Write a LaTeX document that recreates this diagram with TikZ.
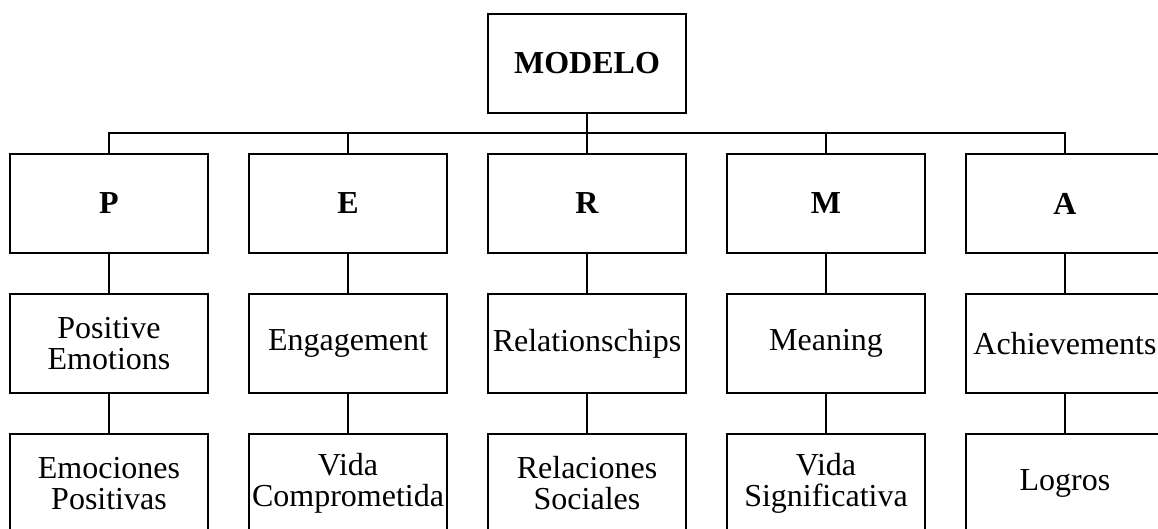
\documentclass[tikz,border=0pt]{standalone}
\usepackage{fontspec}
\setmainfont{Liberation Serif}
\begin{document}
\begin{tikzpicture}[x=1pt,y=-1pt,
  box/.style={draw=black, line width=2.6pt, minimum width=198pt, minimum height=99pt,
    inner sep=0pt, align=center, font=\fontsize{32}{31}\selectfont},
  head/.style={box, font=\fontsize{32}{31}\selectfont\bfseries},
  conn/.style={draw=black, line width=2.6pt}]
\useasboundingbox (0,0) rectangle (1158,529);
\clip (0,0) rectangle (1158,529);
\node[head] (M) at (587,63.5) {MODELO};
\node[head] (P) at (109,203.5) {P};
\node[head] (E) at (348,203.5) {E};
\node[head] (R) at (587,203.5) {R};
\node[head] (Mn) at (826,203.5) {M};
\node[head] (A) at (1065,203.5) {A};
\node[box] (P2) at (109,343.5) {Positive\\Emotions};
\node[box] (E2) at (348,343.5) {Engagement};
\node[box] (R2) at (587,343.5) {Relationschips};
\node[box] (M2) at (826,343.5) {Meaning};
\node[box] (A2) at (1065,343.5) {Achievements};
\node[box] (P3) at (109,483.5) {Emociones\\Positivas};
\node[box] (E3) at (348,483.5) {Vida\\Comprometida};
\node[box] (R3) at (587,483.5) {Relaciones\\Sociales};
\node[box] (M3) at (826,483.5) {Vida\\Significativa};
\node[box] (A3) at (1065,483.5) {Logros};
\coordinate (bus) at (0,133);
\draw[conn] (M.south) -- (M.south|-bus);
\draw[conn] (P.north) -- (P.north|-bus) -- (A.north|-bus) -- (A.north);
\foreach \n in {E,R,Mn} \draw[conn] (\n.north) -- (\n.north|-bus);
\foreach \a/\b in {P/P2,E/E2,R/R2,Mn/M2,A/A2,P2/P3,E2/E3,R2/R3,M2/M3,A2/A3}
  \draw[conn] (\a.south) -- (\b.north);
\end{tikzpicture}
\end{document}
